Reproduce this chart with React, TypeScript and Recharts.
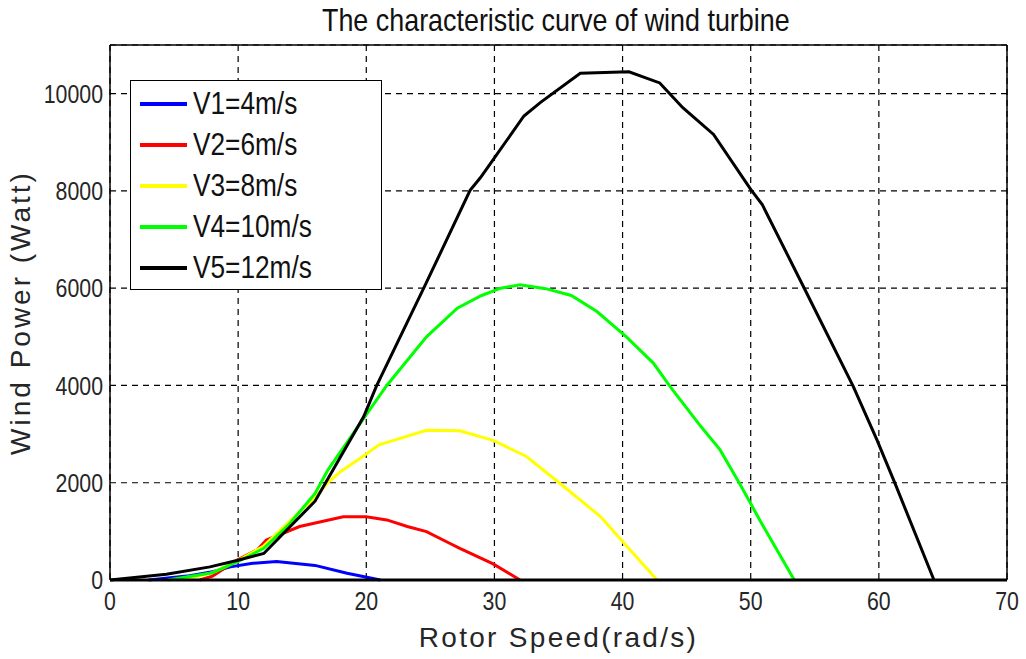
import { CartesianGrid, Line, LineChart, ReferenceLine, XAxis, YAxis } from "recharts";

// [rotor speed (rad/s), power (W)]
const v1Points = [
  [3, 0], [6, 80], [8, 170], [9.4, 270], [11, 340], [13, 378], [16, 300], [18.5, 140], [21.1, 0],
];
const v2Points = [
  [7, 0], [8, 80], [10, 420], [11.5, 620], [12.2, 820], [14.8, 1100], [18.2, 1300], [20, 1300],
  [21.6, 1235], [23.2, 1100], [24.7, 995], [26.5, 755], [27.3, 650], [29.9, 330], [32, 0],
];
const v3Points = [
  [5.7, 0], [8, 150], [10, 400], [12, 700], [14, 1200], [16, 1700], [17, 2000], [18, 2230],
  [19.5, 2500], [21, 2780], [24.7, 3080], [27.3, 3070], [29.9, 2870], [32.5, 2540], [35.1, 1990],
  [38.3, 1300], [40.1, 760], [42.7, 0],
];
const v4Points = [
  [4.5, 0], [8, 150], [10, 380], [12, 650], [14, 1150], [16, 1780], [17, 2260], [20, 3400],
  [21.6, 4000], [24.7, 5000], [27.1, 5590], [29, 5850], [30.5, 6000], [32, 6070], [34, 5990],
  [36, 5850], [38, 5520], [40.3, 5000], [42.4, 4460], [43.7, 3980], [46.1, 3160], [47.6, 2680],
  [49.2, 1955], [50.7, 1235], [53.4, 0],
];
const v5Points = [
  [0, 0], [4.4, 120], [7.8, 270], [9.9, 400], [12, 545], [16, 1620], [19.8, 3360], [20.8, 3990],
  [24.5, 6010], [28.1, 8010], [28.9, 8270], [30, 8680], [32.3, 9540], [33.6, 9820], [36.7, 10420],
  [40.5, 10450], [42.9, 10220], [44.7, 9710], [47.1, 9160], [50, 8030], [50.9, 7720], [54.1, 6040],
  [58, 3980], [59.85, 2880], [61.3, 1960], [64.3, 0],
];

const seriesNames = ["V1=4m/s", "V2=6m/s", "V3=8m/s", "V4=10m/s", "V5=12m/s"];
const seriesColors = ["#0000ff", "#ff0000", "#ffff00", "#00ff00", "#000000"];
const seriesPoints = [v1Points, v2Points, v3Points, v4Points, v5Points];

const xTicks = [0, 10, 20, 30, 40, 50, 60, 70];
const yTicks = [0, 2000, 4000, 6000, 8000, 10000];

const FONT = "'Liberation Sans', Arial, sans-serif";
const SQUEEZE = 0.82; // the original text is a narrow face

const series = seriesPoints.map((pts, i) => ({
  name: seriesNames[i],
  color: seriesColors[i],
  data: pts.map(([speed, power]) => ({ speed, power })),
}));

const NarrowTick = ({ x, y, payload, anchor, dy }: any) => (
  <text
    transform={`translate(${x},${y}) scale(${SQUEEZE},1)`}
    textAnchor={anchor}
    dy={dy}
    fontFamily={FONT}
    fontSize={26}
    fill="#262626"
  >
    {payload.value}
  </text>
);

const Squeezed = ({ children, size, squeeze = SQUEEZE }: { children: string; size: number; squeeze?: number }) => (
  <span
    style={{
      display: "inline-block",
      fontFamily: FONT,
      fontSize: size,
      color: "#111",
      transform: `scaleX(${squeeze})`,
      transformOrigin: "left center",
      whiteSpace: "nowrap",
    }}
  >
    {children}
  </span>
);

const LegendBox = () => (
  <div
    style={{
      position: "absolute",
      left: 130,
      top: 80,
      width: 250,
      height: 206,
      border: "1.5px solid #000",
      background: "#fff",
      paddingTop: 2,
    }}
  >
    {series.map((s) => (
      <div key={s.name} style={{ height: 41, display: "flex", alignItems: "center" }}>
        <div style={{ width: 47, height: 4, background: s.color, marginLeft: 9, marginRight: 6 }} />
        <Squeezed size={32}>{s.name}</Squeezed>
      </div>
    ))}
  </div>
);

export default function App() {
  return (
    <div style={{ position: "absolute", left: 0, top: 0, width: 1026, height: 659, background: "#fff" }}>
      <LineChart
        width={1026}
        height={659}
        margin={{ top: 45, right: 19, bottom: 39, left: 10 }}
        style={{ position: "absolute", left: 0, top: 0 }}
      >
        <CartesianGrid stroke="#000" strokeDasharray="6 5" strokeWidth={1.2} />
        <XAxis
          dataKey="speed"
          type="number"
          domain={[0, 70]}
          ticks={xTicks}
          allowDuplicatedCategory={false}
          height={40}
          tickLine={false}
          tickSize={0}
          tickMargin={12}
          axisLine={{ stroke: "#000", strokeWidth: 3 }}
          tick={(p: any) => <NarrowTick {...p} anchor="middle" dy="0.71em" />}
          label={{
            value: "Rotor Speed(rad/s)",
            position: "insideBottom",
            offset: -27,
            style: { fontFamily: FONT, fontSize: 28, fill: "#262626", letterSpacing: 2.3 },
          }}
        />
        <YAxis
          type="number"
          domain={[0, 11000]}
          ticks={yTicks}
          width={100}
          tickLine={false}
          tickSize={0}
          tickMargin={7}
          axisLine={{ stroke: "#000", strokeWidth: 1.5 }}
          tick={(p: any) => <NarrowTick {...p} anchor="end" dy="0.355em" />}
          label={{
            value: "Wind Power (Watt)",
            angle: -90,
            position: "insideLeft",
            offset: 10,
            style: { fontFamily: FONT, fontSize: 28, fill: "#262626", letterSpacing: 3, textAnchor: "middle" },
          }}
        />
        <ReferenceLine y={11000} stroke="#000" strokeWidth={1.5} />
        <ReferenceLine x={70} stroke="#000" strokeWidth={1.5} />
        {series.map((s) => (
          <Line
            key={s.name}
            data={s.data}
            dataKey="power"
            name={s.name}
            type="linear"
            stroke={s.color}
            strokeWidth={3}
            dot={false}
            activeDot={false}
            isAnimationActive={false}
          />
        ))}
      </LineChart>
      <div style={{ position: "absolute", left: 322, top: 2, height: 36, lineHeight: "36px" }}>
        <Squeezed size={32} squeeze={0.84}>The characteristic curve of wind turbine</Squeezed>
      </div>
      <LegendBox />
    </div>
  );
}
